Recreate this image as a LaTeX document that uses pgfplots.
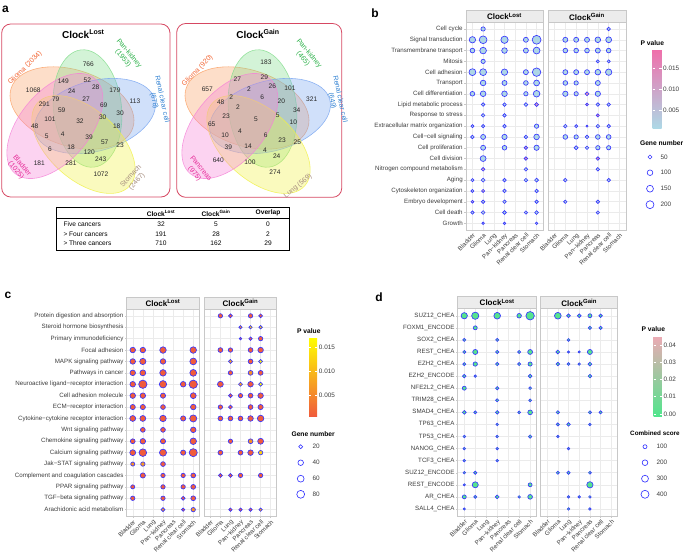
\documentclass[border=0pt]{standalone}
\usepackage{fontspec}
\setmainfont{Liberation Sans}
\usepackage{pgfplots}
\usepackage{pgfplotstable}
\pgfplotsset{compat=1.18}

\definecolor{dotblue}{RGB}{55,55,255}
\definecolor{gridgrey}{RGB}{235,235,235}
\definecolor{panelgrey}{RGB}{200,200,200}
\definecolor{stripfill}{RGB}{236,236,236}
\definecolor{textgrey}{RGB}{60,60,60}
\definecolor{boxred}{RGB}{214,72,98}
\definecolor{vorange}{RGB}{250,160,100}
\definecolor{vgreen}{RGB}{130,220,140}
\definecolor{vblue}{RGB}{120,165,240}
\definecolor{vyellow}{RGB}{240,240,70}
\definecolor{vpink}{RGB}{245,130,215}
\definecolor{lorange}{RGB}{242,100,50}
\definecolor{lgreen}{RGB}{40,175,70}
\definecolor{lblue}{RGB}{50,130,210}
\definecolor{lpink}{RGB}{230,40,150}
\definecolor{lbrown}{RGB}{165,140,125}

\newcommand\tickfont{\fontsize{6.2}{7}\selectfont}
\newcommand\stripfont{\fontsize{8}{9}\selectfont\bfseries}
\newcommand\legfont{\fontsize{6.4}{7}\selectfont}
\newcommand\legtitle{\fontsize{6.7}{8}\selectfont\bfseries}
\newcommand\panlab{\fontsize{12}{13}\selectfont\bfseries}
\newcommand\vnum{\fontsize{6.6}{7}\selectfont}
\newcommand\vlab{\fontsize{7}{8}\selectfont}
\newcommand\tabfont{\fontsize{6.6}{7}\selectfont}

\newcommand\vell[6]{%
  \fill[#1, fill opacity=0.35, rotate around={#6:(#2,-#3)}] (#2,-#3) ellipse [x radius=#4pt, y radius=#5pt];
  \draw[#1, line width=0.6pt, draw opacity=0.8, rotate around={#6:(#2,-#3)}] (#2,-#3) ellipse [x radius=#4pt, y radius=#5pt];}
\newcommand\vn[3]{\node[font=\vnum, text=black!85, inner sep=0pt] at (#1,-#2) {#3};}

\pgfplotsset{
  /pgf/number format/assume math mode=true,
  colormap={cmb}{rgb255(0cm)=(173,216,230); rgb255(1cm)=(240,110,170)},
  colormap={cmc}{rgb255(0cm)=(240,90,60); rgb255(1cm)=(255,255,0)},
  colormap={cmd}{rgb255(0cm)=(80,230,140); rgb255(1cm)=(235,170,180)},
  facet/.style={
    scale only axis, anchor=north west, clip=false, enlargelimits=false,
    xmin=-0.6, xmax=6.6, ymax=0.6,
    xtick={0,...,6},
    xticklabels={Bladder,Glioma,Lung,Pan−kidney,Pancreas,Renal clear cell,Stomach},
    xticklabel style={rotate=45, anchor=north east, font=\tickfont, text=textgrey, inner sep=0.8pt},
    yticklabel style={font=\tickfont, text=textgrey, inner sep=1.5pt},
    grid=major, major grid style={draw=gridgrey, line width=0.5pt},
    axis line style={draw=panelgrey, line width=0.5pt},
    tick style={draw=panelgrey, line width=0.4pt},
    major tick length=1.6pt, tick align=outside, tick pos=left,
  },
  gainfacet/.style={facet, yticklabels={}, ytick style={draw=none}},
  dots/.style={scatter, only marks, mark=*, point meta=explicit,
    scatter/use mapped color={draw=dotblue, fill=mapped color},
    visualization depends on={#1*sqrt(\thisrow{n})\as\msize},
    scatter/@pre marker code/.append style={/tikz/mark size=\msize},
    every mark/.append style={line width=0.65pt}},
  legcirc/.style={scatter, only marks, mark=*,
    scatter/use mapped color={draw=dotblue, fill=white},
    visualization depends on={#1*sqrt(\thisrow{n})\as\msize},
    scatter/@pre marker code/.append style={/tikz/mark size=\msize},
    every mark/.append style={line width=0.65pt}},
  cbar/.style={at={(parent axis.north west)}, anchor=north west, xshift=0pt, yshift=0pt,
    scale only axis, axis line style={draw=none}, major tick length=2.2pt, tick align=inside,
    ytick style={draw=white, line width=0.6pt}, yticklabel pos=right,
    yticklabel style={font=\legfont, text=textgrey, inner sep=1.5pt},
    scaled y ticks=false},
}

% ---------------- panel b data ----------------
\pgfplotstableread{
x y n p
1 0 60 0.001
0 1 130 0.001
1 1 190 0.001
3 1 170 0.001
5 1 80 0.001
6 1 250 0.001
0 2 70 0.001
1 2 140 0.001
3 2 100 0.001
5 2 80 0.001
6 2 150 0.001
1 3 60 0.001
0 4 150 0.001
1 4 150 0.001
3 4 130 0.001
5 4 80 0.001
6 4 230 0.001
1 5 100 0.001
3 5 80 0.001
5 5 70 0.001
6 5 110 0.001
0 6 70 0.001
1 6 100 0.001
3 6 100 0.001
5 6 60 0.001
6 6 140 0.001
1 7 40 0.002
3 7 40 0.001
5 7 45 0.001
6 7 50 0.012
1 8 40 0.002
3 8 40 0.001
0 9 30 0.002
1 9 35 0.002
3 9 40 0.001
6 9 60 0.001
0 10 40 0.001
1 10 80 0.001
3 10 90 0.001
5 10 40 0.001
6 10 100 0.001
1 11 80 0.001
3 11 70 0.001
5 11 40 0.010
6 11 90 0.001
1 12 110 0.001
5 12 40 0.014
1 13 40 0.012
5 13 40 0.002
0 14 30 0.002
1 14 50 0.002
3 14 40 0.001
5 14 40 0.001
6 14 50 0.001
0 15 30 0.003
1 15 30 0.010
3 15 40 0.002
6 15 40 0.001
0 16 25 0.008
1 16 40 0.003
3 16 40 0.002
6 16 40 0.001
0 17 35 0.002
1 17 45 0.002
3 17 45 0.001
5 17 35 0.002
6 17 45 0.001
1 18 20 0.003
3 18 20 0.002
6 18 20 0.002
}\bLost
\pgfplotstableread{
x y n p
5 0 40 0.002
1 1 80 0.001
2 1 80 0.001
3 1 80 0.001
4 1 100 0.001
5 1 110 0.001
1 2 70 0.001
2 2 70 0.001
3 2 70 0.001
4 2 80 0.001
5 2 70 0.001
4 3 30 0.002
5 3 30 0.002
1 4 80 0.001
2 4 80 0.001
3 4 80 0.001
4 4 100 0.001
5 4 130 0.001
1 5 70 0.001
2 5 60 0.001
4 5 80 0.001
1 6 90 0.001
2 6 60 0.002
3 6 50 0.014
4 6 90 0.001
3 7 25 0.012
4 7 40 0.002
5 7 40 0.002
4 8 30 0.016
1 9 40 0.002
2 9 30 0.003
3 9 15 0.008
4 9 40 0.002
5 9 40 0.002
1 10 70 0.001
2 10 60 0.001
3 10 40 0.002
4 10 70 0.001
5 10 70 0.001
2 11 50 0.001
3 11 40 0.002
4 11 60 0.001
5 11 60 0.001
4 12 40 0.016
4 13 40 0.002
1 14 40 0.002
5 14 40 0.002
1 16 35 0.002
4 16 40 0.002
4 17 35 0.002
}\bGain

% ---------------- panel c data ----------------
\pgfplotstableread{
x y n p
0 3 40 0.0007
1 3 40 0.0007
3 3 55 0.0007
6 3 55 0.0007
0 4 40 0.0007
1 4 50 0.0007
3 4 40 0.0007
6 4 60 0.0007
0 5 40 0.0007
1 5 45 0.0007
3 5 55 0.0007
6 5 60 0.0007
0 6 40 0.0007
1 6 90 0.0007
3 6 70 0.0007
5 6 40 0.0007
6 6 90 0.0007
0 7 40 0.0007
1 7 40 0.0007
3 7 35 0.0007
6 7 45 0.0007
0 8 35 0.0007
1 8 35 0.0007
3 8 30 0.0007
6 8 40 0.0007
0 9 45 0.0007
1 9 45 0.0007
3 9 55 0.0007
5 9 35 0.0007
6 9 65 0.0007
1 10 30 0.0007
3 10 30 0.0007
6 10 40 0.0007
0 11 30 0.0007
1 11 40 0.0007
3 11 35 0.0007
6 11 55 0.0007
0 12 45 0.0007
1 12 75 0.0007
3 12 65 0.0007
5 12 35 0.0007
6 12 85 0.0007
0 13 22 0.006
1 13 25 0.007
3 13 30 0.0007
1 14 35 0.0007
3 14 25 0.0007
5 14 25 0.0007
6 14 30 0.0007
0 15 22 0.0007
3 15 25 0.0007
5 15 25 0.0007
6 15 30 0.0007
0 16 25 0.0007
3 16 25 0.0007
5 16 20 0.0007
6 16 30 0.0007
3 17 20 0.006
5 17 15 0.0007
6 17 25 0.006
}\cLost
\pgfplotstableread{
x y n p
1 0 25 0.0007
2 0 20 0.0007
4 0 25 0.0007
5 0 20 0.0007
3 1 15 0.006
4 1 15 0.012
5 1 15 0.012
3 2 8 0.0007
4 2 15 0.0007
5 2 25 0.0007
1 3 30 0.0007
2 3 25 0.0007
4 3 30 0.0007
5 3 40 0.0007
2 4 20 0.008
4 4 30 0.0007
5 4 20 0.016
2 5 25 0.0007
4 5 30 0.006
5 5 30 0.0007
1 6 45 0.0007
3 6 20 0.008
4 6 40 0.0007
5 6 20 0.017
2 7 20 0.0007
3 7 25 0.0007
4 7 30 0.0007
5 7 40 0.0007
1 8 25 0.0007
2 8 20 0.0007
4 8 30 0.0007
5 8 35 0.0007
1 9 30 0.0007
2 9 30 0.0007
3 9 30 0.0007
4 9 40 0.0007
5 9 55 0.0007
2 11 25 0.0007
4 11 30 0.006
5 11 45 0.0007
1 12 30 0.0007
3 12 30 0.0007
4 12 40 0.0007
5 12 25 0.012
1 14 20 0.0007
2 14 20 0.0007
3 14 25 0.0007
5 14 25 0.0007
2 17 15 0.0007
3 17 15 0.0007
4 17 15 0.0007
5 17 15 0.008
}\cGain

% ---------------- panel d data ----------------
\pgfplotstableread{
x y n p
0 0 250 0.0005
1 0 330 0.0005
3 0 280 0.0005
5 0 130 0.0005
6 0 450 0.0005
1 1 100 0.0005
0 2 60 0.0005
3 2 60 0.0005
0 3 60 0.0005
1 3 160 0.0005
3 3 70 0.0005
5 3 60 0.0005
6 3 150 0.0005
0 4 60 0.0005
1 4 120 0.0005
3 4 70 0.0005
5 4 60 0.0005
6 4 110 0.0005
0 5 80 0.0005
1 5 40 0.0005
6 5 90 0.0005
0 6 100 0.0005
3 6 70 0.0005
6 6 50 0.0005
3 7 60 0.0005
6 7 50 0.0005
0 8 90 0.0005
1 8 60 0.0005
3 8 80 0.0005
5 8 50 0.0005
6 8 140 0.0005
3 9 40 0.0005
0 10 40 0.0005
3 10 40 0.0005
6 10 70 0.0005
0 11 40 0.0005
3 11 40 0.0005
0 12 40 0.0005
3 12 40 0.0005
0 13 40 0.0005
1 13 70 0.0005
0 14 30 0.0005
1 14 230 0.0005
6 14 100 0.0005
0 15 100 0.0005
1 15 60 0.0005
3 15 90 0.0005
5 15 40 0.0005
6 15 140 0.0005
0 16 30 0.0005
}\dLost
\pgfplotstableread{
x y n p
1 0 280 0.0005
2 0 90 0.0005
3 0 90 0.0005
4 0 100 0.0005
5 0 80 0.0005
4 1 70 0.0005
5 1 70 0.0005
2 2 50 0.0005
1 3 90 0.0005
2 3 30 0.0005
3 3 30 0.0005
4 3 160 0.0005
1 4 80 0.0005
2 4 50 0.0005
3 4 40 0.0005
4 4 90 0.0005
4 5 80 0.0005
1 8 70 0.0005
4 8 60 0.0005
5 8 60 0.0005
1 9 60 0.0005
2 9 80 0.0005
4 9 40 0.0005
1 10 40 0.0005
2 11 40 0.0005
1 13 60 0.0005
2 13 70 0.0005
4 13 50 0.0005
4 14 250 0.0005
2 15 40 0.0005
3 15 40 0.0005
4 15 40 0.0005
2 16 40 0.0005
4 16 40 0.0005
}\dGain

\begin{document}
\begin{tikzpicture}[x=1pt,y=1pt]
\path[use as bounding box] (0,0) rectangle (685,-554);

% ================= canvas axis: panel a, legends, labels =================
\begin{axis}[at={(0pt,0pt)}, anchor=north west, scale only axis, width=685pt, height=554pt,
  xmin=0, xmax=685, ymin=-554, ymax=0, enlargelimits=false, hide axis, clip=false]
\addplot[draw=none] coordinates {(0,0)};

% panel labels
\node[font=\panlab] at (5.5,-9) {a};
\node[font=\panlab] at (375,-13) {b};
\node[font=\panlab] at (8,-295) {c};
\node[font=\panlab] at (379,-297) {d};

% Venn boxes
\draw[boxred, line width=0.8pt, rounded corners=9pt] (1.7,-24) rectangle (170,-197);
\draw[boxred, line width=0.8pt, rounded corners=9pt] (176.7,-23.5) rectangle (341.7,-197.3);
\node[font=\fontsize{10}{11}\selectfont\bfseries] at (83.3,-34.3) {Clock\textsuperscript{Lost}};
\node[font=\fontsize{10}{11}\selectfont\bfseries] at (258,-34.3) {Clock\textsuperscript{Gain}};

% left Venn
\vell{vorange}{72}{108}{64}{38}{-18}
\vell{vgreen}{87.5}{108.5}{59}{34}{96.3}
\vell{vblue}{95}{116}{62}{35}{15.6}
\vell{vyellow}{83.5}{144.5}{62}{35}{-42}
\vell{vpink}{54.9}{126}{62}{35}{50}
% right Venn
\vell{vorange}{247}{108}{64}{38}{-18}
\vell{vgreen}{262.5}{108.5}{59}{34}{96.3}
\vell{vblue}{270}{116}{62}{35}{15.6}
\vell{vyellow}{258.5}{144.5}{62}{35}{-42}
\vell{vpink}{229.9}{126}{62}{35}{50}

% left numbers
\vn{33.3}{90.3}{1068}
\vn{63.3}{81}{149}
\vn{88.3}{64}{766}
\vn{87.3}{80}{52}
\vn{95.7}{87.7}{28}
\vn{115}{90}{179}
\vn{135}{101.7}{113}
\vn{44.3}{104.3}{291}
\vn{55.7}{99}{79}
\vn{71.7}{90.7}{24}
\vn{86}{99.3}{27}
\vn{103.7}{105}{69}
\vn{120}{113}{30}
\vn{61.7}{110}{59}
\vn{50}{119.3}{101}
\vn{80}{121.7}{32}
\vn{102.7}{117.3}{30}
\vn{116.7}{126}{18}
\vn{34.7}{126.3}{48}
\vn{46.7}{136.7}{5}
\vn{62.7}{134}{4}
\vn{89}{137.3}{39}
\vn{104.7}{142.3}{57}
\vn{120}{145}{23}
\vn{50}{149.7}{6}
\vn{71}{147.3}{18}
\vn{89.3}{152.3}{120}
\vn{100.7}{159}{243}
\vn{39.3}{163}{181}
\vn{71}{163.7}{281}
\vn{101}{174}{1072}
% right numbers
\vn{266}{62}{183}
\vn{237.3}{79.3}{27}
\vn{264.3}{77.7}{29}
\vn{207.3}{89.3}{657}
\vn{249}{89.3}{2}
\vn{272.3}{86}{26}
\vn{290}{88.3}{101}
\vn{311.7}{99.3}{321}
\vn{220.7}{102.7}{48}
\vn{231.3}{96.7}{2}
\vn{262.3}{97.7}{6}
\vn{281.3}{101}{20}
\vn{296.7}{110}{34}
\vn{238}{107.3}{2}
\vn{226}{116.7}{23}
\vn{256}{119}{5}
\vn{277.7}{115}{5}
\vn{293.3}{122.7}{10}
\vn{211.7}{124.3}{65}
\vn{240}{131}{4}
\vn{225}{135}{10}
\vn{265.7}{135.3}{6}
\vn{282}{140}{23}
\vn{297.3}{142.7}{25}
\vn{228.3}{147}{39}
\vn{248}{146}{14}
\vn{265}{150}{4}
\vn{276.7}{156}{24}
\vn{218.3}{160}{640}
\vn{250}{162.3}{100}
\vn{275}{171.7}{274}

% Venn set labels
\node[font=\vlab, text=lorange, rotate=45] at (25,-68) {Glioma (2034)};
\node[font=\vlab, text=lgreen, rotate=-50, align=center] at (126,-56) {Pan-kidney\\(1953)};
\node[font=\vlab, text=lblue, rotate=-78, align=center] at (158,-100) {Renal clear cell\\(678)};
\node[font=\vlab, text=lpink, rotate=-50, align=center] at (19,-168) {Bladder\\(1025)};
\node[font=\vlab, text=lbrown, rotate=48, align=center] at (134,-179) {Stomach\\(2467)};
\node[font=\vlab, text=lorange, rotate=45] at (197.5,-70.5) {Glioma (920)};
\node[font=\vlab, text=lgreen, rotate=-50, align=center] at (306,-56) {Pan-kidney\\(465)};
\node[font=\vlab, text=lblue, rotate=-78, align=center] at (336,-100) {Renal clear cell\\(649)};
\node[font=\vlab, text=lpink, rotate=-50, align=center] at (197.5,-171) {Pancreas\\(975)};
\node[font=\vlab, text=lbrown, rotate=40] at (298,-186) {Lung (569)};

% table
\draw[line width=0.6pt] (56,-207) rectangle (289,-250);
\draw[line width=0.4pt] (56,-218.5) -- (289,-218.5);
\node[font=\tabfont\bfseries] at (161,-213) {Clock\textsuperscript{Lost}};
\node[font=\tabfont\bfseries] at (216,-213) {Clock\textsuperscript{Gain}};
\node[font=\tabfont\bfseries] at (268,-213) {Overlap};
\node[font=\tabfont, anchor=west] at (60,-224.5) {Five cancers};
\node[font=\tabfont, anchor=west] at (60,-234) {> Four cancers};
\node[font=\tabfont, anchor=west] at (60,-243.5) {> Three cancers};
\node[font=\tabfont] at (161,-224.5) {32};
\node[font=\tabfont] at (161,-234) {191};
\node[font=\tabfont] at (161,-243.5) {710};
\node[font=\tabfont] at (216,-224.5) {5};
\node[font=\tabfont] at (216,-234) {28};
\node[font=\tabfont] at (216,-243.5) {162};
\node[font=\tabfont] at (268,-224.5) {0};
\node[font=\tabfont] at (268,-234) {2};
\node[font=\tabfont] at (268,-243.5) {29};

% legend titles
\node[font=\legtitle, anchor=west] at (637,-43.3) {P value};
\node[font=\legtitle, anchor=west] at (636.5,-143) {Gene number};
\node[font=\legtitle, anchor=west] at (293.5,-330.7) {P value};
\node[font=\legtitle, anchor=west] at (288,-433.7) {Gene number};
\node[font=\legtitle, anchor=west] at (638,-329) {P value};
\node[font=\fontsize{6.3}{7}\selectfont\bfseries, anchor=west, inner sep=0.5pt] at (629.5,-433.7) {Combined score};

% size legends
\addplot[legcirc=0.28] table[row sep=\\] {x y n\\ 650 -157 50\\ 650 -172.7 100\\ 650 -188.7 150\\ 650 -204.7 200\\};
\addplot[legcirc=0.44] table[row sep=\\] {x y n\\ 300.7 -446.7 20\\ 300.7 -462.7 40\\ 300.7 -478.7 60\\ 300.7 -494.3 80\\};
\addplot[legcirc=0.2] table[row sep=\\] {x y n\\ 645 -446.7 100\\ 645 -462.7 200\\ 645 -478.7 300\\ 645 -494.3 400\\};
\node[font=\legfont, text=textgrey, anchor=west] at (657,-157) {50};
\node[font=\legfont, text=textgrey, anchor=west] at (657,-172.7) {100};
\node[font=\legfont, text=textgrey, anchor=west] at (657,-188.7) {150};
\node[font=\legfont, text=textgrey, anchor=west] at (657,-204.7) {200};
\node[font=\legfont, text=textgrey, anchor=west] at (309,-446.7) {20};
\node[font=\legfont, text=textgrey, anchor=west] at (309,-462.7) {40};
\node[font=\legfont, text=textgrey, anchor=west] at (309,-478.7) {60};
\node[font=\legfont, text=textgrey, anchor=west] at (309,-494.3) {80};
\node[font=\legfont, text=textgrey, anchor=west] at (653,-446.7) {100};
\node[font=\legfont, text=textgrey, anchor=west] at (653,-462.7) {200};
\node[font=\legfont, text=textgrey, anchor=west] at (653,-478.7) {300};
\node[font=\legfont, text=textgrey, anchor=west] at (653,-494.3) {400};
\end{axis}

% ================= panel b =================
\begin{axis}[facet, name=bL, at={(466pt,-22.5pt)}, width=77pt, height=207.3pt,
  ymin=-18.6, ytick={-18,...,0},
  yticklabels={Growth,Cell death,Embryo development,Cytoskeleton organization,Aging,Nitrogen compound metabolism,Cell division,Cell proliferation,Cell−cell signaling,Extracellular matrix organization,Response to stress,Lipid metabolic process,Cell differentiation,Transport,Cell adhesion,Mitosis,Transmembrane transport,Signal transduction,Cell cycle},
  colormap name=cmb, point meta min=0.0006, point meta max=0.0198]
\addplot[dots=0.28] table[x=x, y expr=-\thisrow{y}, meta=p]{\bLost};
\end{axis}
\begin{axis}[gainfacet, name=bG, at={(548pt,-22.5pt)}, width=78pt, height=207.3pt,
  ymin=-18.6, ytick={-18,...,0},
  colormap name=cmb, point meta min=0.0006, point meta max=0.0198]
\addplot[dots=0.28] table[x=x, y expr=-\thisrow{y}, meta=p]{\bGain};
\end{axis}

% ================= panel c =================
\begin{axis}[facet, name=cL, at={(126.7pt,-309pt)}, width=72.6pt, height=207.5pt,
  ymin=-17.6, ytick={-17,...,0},
  yticklabels={Arachidonic acid metabolism,TGF−beta signaling pathway,PPAR signaling pathway,Complement and coagulation cascades,Jak−STAT signaling pathway,Calcium signaling pathway,Chemokine signaling pathway,Wnt signaling pathway,Cytokine−cytokine receptor interaction,ECM−receptor interaction,Cell adhesion molecule,Neuroactive ligand−receptor interaction,Pathways in cancer,MAPK signaling pathway,Focal adhesion,Primary immunodeficiency,Steroid hormone biosynthesis,Protein digestion and absorption},
  colormap name=cmc, point meta min=0.000625, point meta max=0.01717]
\addplot[dots=0.44] table[x=x, y expr=-\thisrow{y}, meta=p]{\cLost};
\end{axis}
\begin{axis}[gainfacet, name=cG, at={(204.3pt,-309pt)}, width=72.4pt, height=207.5pt,
  ymin=-17.6, ytick={-17,...,0},
  colormap name=cmc, point meta min=0.000625, point meta max=0.01717]
\addplot[dots=0.44] table[x=x, y expr=-\thisrow{y}, meta=p]{\cGain};
\end{axis}

% ================= panel d =================
\begin{axis}[facet, name=dL, at={(457.7pt,-308.5pt)}, width=79pt, height=207.7pt,
  ymin=-16.6, ytick={-16,...,0},
  yticklabels={SALL4\_CHEA,AR\_CHEA,REST\_ENCODE,SUZ12\_ENCODE,TCF3\_CHEA,NANOG\_CHEA,TP53\_CHEA,TP63\_CHEA,SMAD4\_CHEA,TRIM28\_CHEA,NFE2L2\_CHEA,EZH2\_ENCODE,EZH2\_CHEA,REST\_CHEA,SOX2\_CHEA,FOXM1\_ENCODE,SUZ12\_CHEA},
  colormap name=cmd, point meta min=-0.0016, point meta max=0.045]
\addplot[dots=0.2] table[x=x, y expr=-\thisrow{y}, meta=p]{\dLost};
\end{axis}
\begin{axis}[gainfacet, name=dG, at={(540.7pt,-308.5pt)}, width=77pt, height=207.7pt,
  ymin=-16.6, ytick={-16,...,0},
  colormap name=cmd, point meta min=-0.0016, point meta max=0.045]
\addplot[dots=0.2] table[x=x, y expr=-\thisrow{y}, meta=p]{\dGain};
\end{axis}

% facet strips
\foreach \f/\t in {bL/Lost, bG/Gain, cL/Lost, cG/Gain, dL/Lost, dG/Gain}{
  \draw[fill=stripfill, draw=panelgrey, line width=0.5pt] (\f.north west) rectangle ([yshift=12pt]\f.north east);
  \node[font=\stripfont] at ([yshift=6pt]\f.north) {Clock\textsuperscript{\t}};
}

% ================= colour bars =================
\begin{axis}[at={(644pt,-49pt)}, anchor=north west, hide axis, scale only axis, width=9pt, height=79pt,
  xmin=0, xmax=1, ymin=0, ymax=1, colormap name=cmb, point meta min=0.0006, point meta max=0.0198,
  colorbar, colorbar style={cbar, width=9pt, height=79pt, ytick={0.005,0.010,0.015},
    yticklabel style={/pgf/number format/fixed, /pgf/number format/precision=3, /pgf/number format/fixed zerofill}}]
\addplot[draw=none] coordinates {(0,0)};
\end{axis}
\begin{axis}[at={(300.7pt,-337.3pt)}, anchor=north west, hide axis, scale only axis, width=8pt, height=79.4pt,
  xmin=0, xmax=1, ymin=0, ymax=1, colormap name=cmc, point meta min=0.000625, point meta max=0.01717,
  colorbar, colorbar style={cbar, width=8pt, height=79.4pt, ytick={0.005,0.010,0.015},
    yticklabel style={/pgf/number format/fixed, /pgf/number format/precision=3, /pgf/number format/fixed zerofill}}]
\addplot[draw=none] coordinates {(0,0)};
\end{axis}
\begin{axis}[at={(645pt,-336.7pt)}, anchor=north west, hide axis, scale only axis, width=8.3pt, height=80pt,
  xmin=0, xmax=1, ymin=0, ymax=1, colormap name=cmd, point meta min=-0.0016, point meta max=0.045,
  colorbar, colorbar style={cbar, width=8.3pt, height=80pt, ytick={0,0.01,0.02,0.03,0.04},
    yticklabel style={/pgf/number format/fixed, /pgf/number format/precision=2, /pgf/number format/fixed zerofill}}]
\addplot[draw=none] coordinates {(0,0)};
\end{axis}
\end{tikzpicture}
\end{document}
